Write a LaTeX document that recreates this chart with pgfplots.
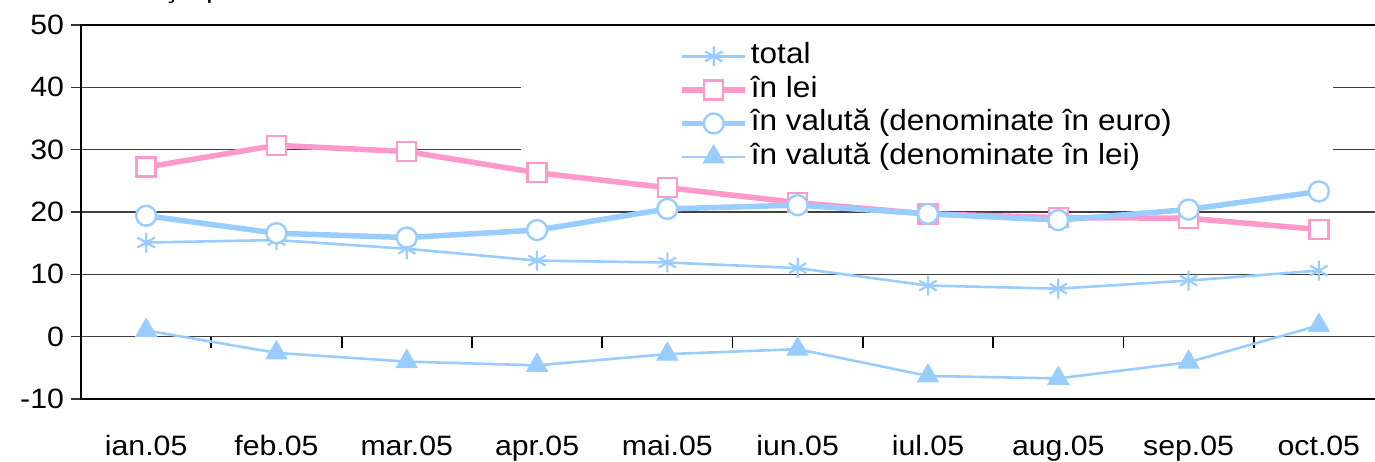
\documentclass[border=0pt]{standalone}
\usepackage{pgfplots}
\pgfplotsset{compat=1.18}
\usepackage{fontspec}
\setmainfont{Liberation Sans}[FakeStretch=1.08]
\definecolor{lblue}{RGB}{153,204,255}
\definecolor{lpink}{RGB}{255,153,204}
\begin{document}
\begin{tikzpicture}[font=\fontsize{14}{16}\selectfont]
% tick marks on the zero line (axis whose bottom edge is y = 0)
\begin{axis}[at={(0,31.1667pt)}, anchor=south west,
  width=651.5pt, height=155.8333pt, scale only axis,
  xmin=-0.5, xmax=9.5, ymin=0, ymax=50,
  axis x line*=bottom, hide y axis,
  x axis line style={black!75, line width=0.6pt},
  xtick={0.5,1.5,...,8.5}, xticklabels={},
  tick align=outside, major tick length=5.5pt,
  x tick style={black, line width=0.9pt},
  xtick pos=bottom]
\addplot[draw=none, forget plot] coordinates {(0,10)};
\end{axis}
\begin{axis}[name=ax, at={(0,0)}, anchor=south west,
  width=651.5pt, height=187pt, scale only axis,
  xmin=-0.5, xmax=9.5, ymin=-10, ymax=50,
  axis line style={black, line width=1.25pt},
  xtick={0,...,9},
  xticklabels={ian.05,feb.05,mar.05,apr.05,mai.05,iun.05,iul.05,aug.05,sep.05,oct.05},
  x tick style={draw=none},
  xticklabel style={anchor=base, yshift=-28pt},
  ytick={-10,0,10,20,30,40,50},
  yticklabels={-10,0,10,20,30,40,50},
  ytick pos=left,
  y tick style={black!80, line width=0.6pt, xshift=-5pt},
  major tick length=5pt,
  yticklabel style={xshift=-5pt},
  ymajorgrids, grid style={black!75, line width=0.6pt},
  legend cell align=left,
  legend style={at={(0.3377,0.927)}, anchor=north west, draw=none, fill=white,
    inner xsep=79pt, inner ysep=-6.5pt,
    nodes={text height=10.5pt, text depth=3.25pt, inner sep=1.5pt},
    font=\fontsize{14.6}{16}\selectfont},
  legend image code/.code={\draw[mark repeat=2,mark phase=2] plot coordinates {(0pt,0pt) (15.75pt,0pt) (31.5pt,0pt)};},
]
\addplot[lblue, line width=1.3pt, mark=asterisk, mark size=5pt, mark options={line width=1.1pt}]
  coordinates {(0,15.1)(1,15.5)(2,14.1)(3,12.2)(4,11.9)(5,11.0)(6,8.2)(7,7.7)(8,9.0)(9,10.6)};
\addlegendentry{total}
\addplot[lpink, line width=2.75pt, mark=square*, mark size=4.75pt, mark options={fill=white, line width=1.2pt}]
  coordinates {(0,27.2)(1,30.7)(2,29.7)(3,26.3)(4,23.9)(5,21.5)(6,19.7)(7,19.1)(8,19.0)(9,17.2)};
\addlegendentry{în lei}
\addplot[lblue, line width=2.75pt, mark=*, mark size=5pt, mark options={fill=white, line width=1.2pt}]
  coordinates {(0,19.4)(1,16.6)(2,15.9)(3,17.1)(4,20.5)(5,21.1)(6,19.7)(7,18.7)(8,20.4)(9,23.3)};
\addlegendentry{în valută (denominate în euro)}
\addplot[lblue, line width=1.3pt, mark=triangle*, mark size=6pt, mark options={fill=lblue, line width=0.5pt}]
  coordinates {(0,1.0)(1,-2.6)(2,-4.0)(3,-4.6)(4,-2.8)(5,-2.0)(6,-6.3)(7,-6.7)(8,-4.1)(9,1.8)};
\addlegendentry{în valută (denominate în lei)}
\end{axis}
\node[anchor=base west, inner sep=0pt] at (9.5pt,200.5pt) {variaţie procentuală anuală reală};
\pgfresetboundingbox
\useasboundingbox (-40.5pt,-31pt) rectangle (647pt,199.5pt);
\end{tikzpicture}
\end{document}
